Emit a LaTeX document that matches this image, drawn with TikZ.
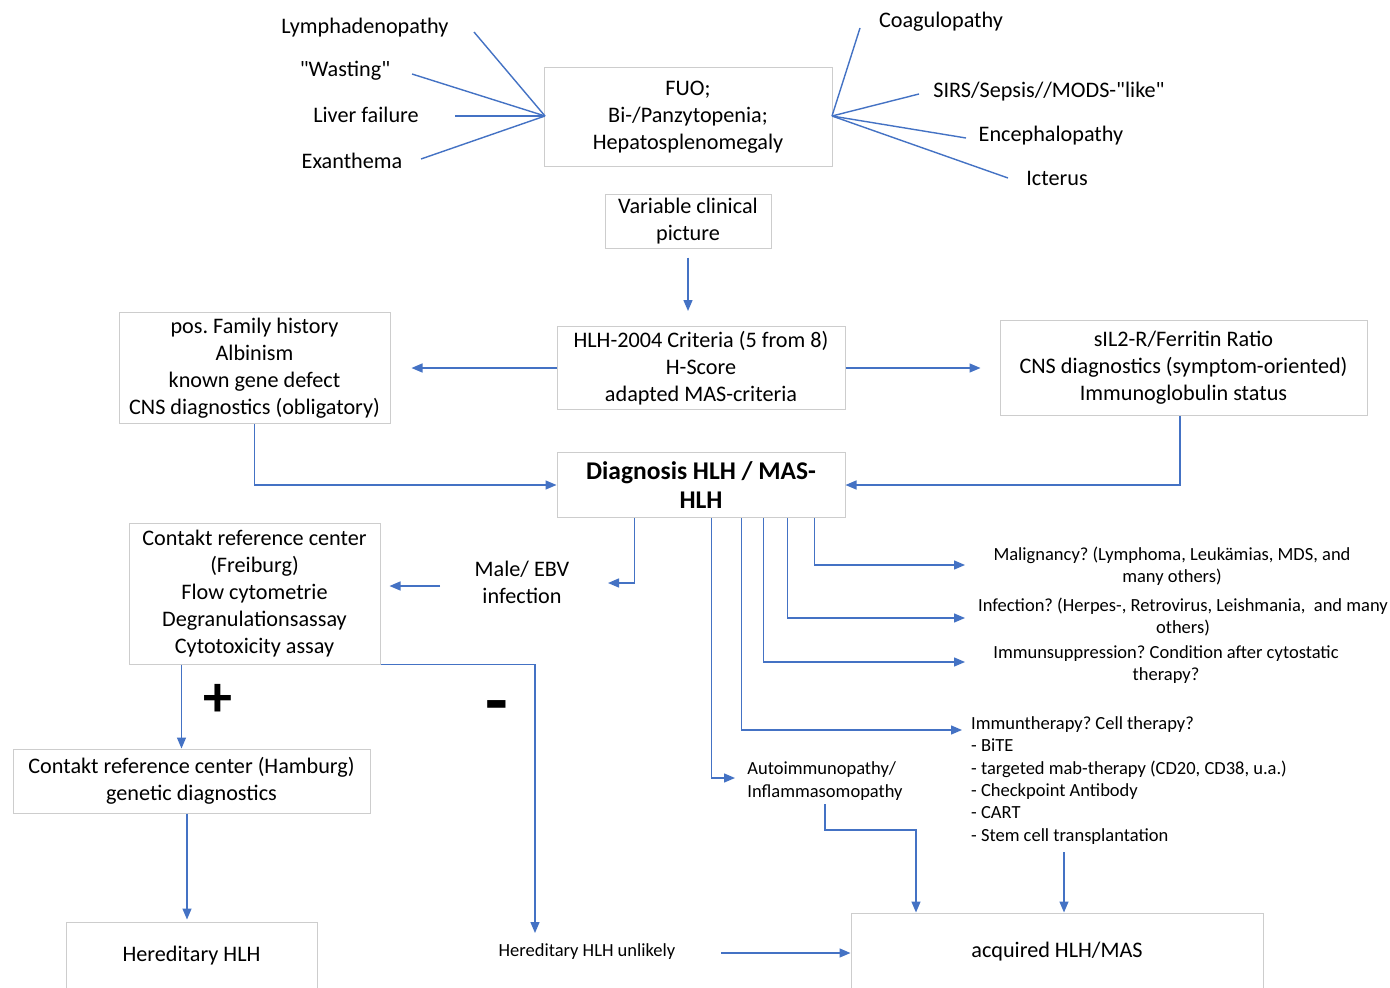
\documentclass[tikz,border=0pt]{standalone}
\usepackage{fontspec}
\setmainfont{Carlito}[Ligatures=TeXOff]
\usetikzlibrary{arrows.meta,calc}
\definecolor{ablue}{RGB}{68,114,196}
\definecolor{bgray}{RGB}{205,205,205}
\frenchspacing
\begin{document}
\begin{tikzpicture}[x=1pt,y=-1pt,
 box/.style={draw=bgray,line width=1pt,align=center,inner sep=0pt,font=\fontsize{22.2}{27}\selectfont},
 lbl/.style={align=center,inner sep=0pt,font=\fontsize{22.2}{27}\selectfont},
 sml/.style={align=center,inner sep=0pt,font=\fontsize{18.5}{22.3}\selectfont},
 ln/.style={draw=ablue,line width=1.4pt},
 arr/.style={ln,-{Triangle[length=11pt,width=9pt]}},
]
\useasboundingbox (0,0) rectangle (1390,988);
\clip (0,0) rectangle (1390,988);
\fill[white] (0,0) rectangle (1390,988);

% top symptom box
\node[box,minimum width=288pt,minimum height=99pt] (fuo) at (688,117) {FUO;\\Bi-/Panzytopenia;\\Hepatosplenomegaly};
\node[lbl] (lymph) at (365,28) {Lymphadenopathy};
\node[lbl] (wast) at (345,71) {"Wasting"};
\node[lbl] (liver) at (366,115) {Liver failure};
\node[lbl] (exan) at (352,161) {Exanthema};
\node[lbl] (coag) at (941,22) {Coagulopathy};
\node[lbl] (sirs) at (1049,92) {SIRS/Sepsis//MODS-"like"};
\node[lbl] (enc) at (1051,136) {Encephalopathy};
\node[lbl] (ict) at (1057,178) {Icterus};
\coordinate (lymphE) at (474,32);
\coordinate (wastE) at (412,74);
\coordinate (liverE) at (455,116);
\coordinate (exanE) at (421,159);
\coordinate (coagE) at (860,28);
\coordinate (sirsE) at (919,94);
\coordinate (encE) at (966,138);
\coordinate (ictE) at (1008,178);
\coordinate (fuoW) at (545,116);
\coordinate (fuoE) at (832,116);
\foreach \c in {lymphE,wastE,liverE,exanE}{\draw[ln] (\c) -- (fuoW);}
\foreach \c in {coagE,sirsE,encE,ictE}{\draw[ln] (\c) -- (fuoE);}

\node[box,minimum width=166pt,minimum height=54pt] (var) at (688,221) {Variable clinical\\picture};
\node[box,minimum width=288pt,minimum height=83pt] (hlh) at (701,368) {HLH-2004 Criteria (5 from 8)\\H-Score\\adapted MAS-criteria};
\node[box,minimum width=271pt,minimum height=111pt] (posfam) at (254.5,368) {pos. Family history\\Albinism\\known gene defect\\CNS diagnostics (obligatory)};
\node[box,minimum width=367pt,minimum height=95pt] (sil) at (1183.5,368) {sIL2-R/Ferritin Ratio\\CNS diagnostics (symptom-oriented)\\Immunoglobulin status};
\node[box,font=\fontsize{25.5}{29}\selectfont\bfseries,minimum width=288pt,minimum height=65pt] (diag) at (701,485) {Diagnosis HLH / MAS-\\HLH};

\draw[arr,shorten <=9pt,shorten >=15pt] (var.south) -- (var.south |- hlh.north);
\draw[arr,shorten >=21pt] (hlh.west) -- (posfam.east);
\draw[arr,shorten >=19pt] (hlh.east) -- (sil.west);
\draw[arr] (posfam.south) |- (diag.west);
\draw[arr] ($(sil.south)+(-3.5,0)$) |- (diag.east);

% left branch
\node[box,minimum width=251pt,minimum height=141pt] (frei) at (254.5,593.5) {Contakt reference center\\(Freiburg)\\Flow cytometrie\\Degranulationsassay\\Cytotoxicity assay};
\node[lbl] (male) at (522,582.5) {Male/ EBV\\infection};
\node[box,minimum width=357pt,minimum height=64pt] (hamb) at (191.5,781) {Contakt reference center (Hamburg)\\genetic diagnostics};
\node[box,minimum width=251pt,minimum height=68pt] (her) at (191.5,956) {Hereditary HLH};
\node[inner sep=0pt,font=\fontsize{18.5}{22}\selectfont] (unl) at (587,952) {Hereditary HLH unlikely};
\node[box,minimum width=412pt,minimum height=78pt] (acq) at (1057,952) {acquired HLH/MAS};
\node[inner sep=0pt,font=\fontsize{58}{58}\selectfont\bfseries] (plus) at (218,700) {+};
\node[inner sep=0pt,font=\fontsize{74}{74}\selectfont\bfseries] (minus) at (497,713) {-};

\coordinate (maleIn) at (608,583);
\coordinate (mA) at (440,586);
\coordinate (u1) at (535,933);
\draw[arr] ($(diag.south west)+(78,0)$) |- (maleIn);
\draw[arr,shorten >=9pt] (mA) -- (mA -| frei.east);
\draw[arr] ($(frei.south west)+(53,0)$) coordinate (f1) -- (f1 |- hamb.north);
\draw[arr] (frei.south east) -| (u1);
\draw[arr,shorten >=2pt] ($(hamb.south)+(-4.5,0)$) coordinate (h1) -- (h1 |- her.north);
\coordinate (unlOut) at (721,953);
\draw[arr] (unlOut) -- (unlOut -| acq.west);

% right branch
\node[sml] (mal) at (1172,566) {Malignancy? (Lymphoma, Leukämias, MDS, and\\many others)};
\node[sml] (inf) at (1183,617) {Infection? (Herpes-, Retrovirus, Leishmania,\ \ and many\\others)};
\node[sml] (imm) at (1166,664.5) {Immunsuppression? Condition after cytostatic\\therapy?};
\node[sml,align=left,anchor=west] (ther) at (971,780.5) {Immuntherapy? Cell therapy?\\- BiTE\\- targeted mab-therapy (CD20, CD38, u.a.)\\- Checkpoint Antibody\\- CART\\- Stem cell transplantation};
\node[sml,align=left] (auto) at (825,781) {Autoimmunopathy/\\Inflammasomopathy};

\coordinate (malIn) at (965,565);
\coordinate (infIn) at (965,618);
\coordinate (immIn) at (965,662);
\coordinate (therIn) at (962,730);
\coordinate (autoIn) at (735,778);
\coordinate (aT) at (916,830);
\coordinate (tB) at (1064,852);
\draw[arr] ($(diag.south west)+(258,0)$) |- (malIn);
\draw[arr] ($(diag.south west)+(231,0)$) |- (infIn);
\draw[arr] ($(diag.south west)+(207,0)$) |- (immIn);
\draw[arr] ($(diag.south west)+(185,0)$) |- (therIn);
\draw[arr] ($(diag.south west)+(155,0)$) |- (autoIn);
\draw[arr,shorten <=4pt] (auto.south) |- (aT) -- (aT |- acq.north);
\draw[arr] (tB) -- (tB |- acq.north);
\end{tikzpicture}
\end{document}
